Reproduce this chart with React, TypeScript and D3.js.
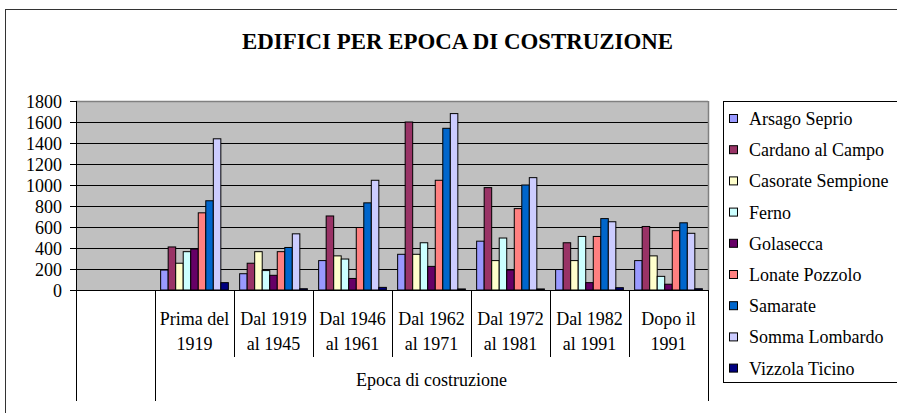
import * as d3 from 'd3';

const categories = ['', 'Prima del|1919', 'Dal 1919|al 1945', 'Dal 1946|al 1961', 'Dal 1962|al 1971', 'Dal 1972|al 1981', 'Dal 1982|al 1991', 'Dopo il|1991'];
const seriesNames = ['Arsago Seprio', 'Cardano al Campo', 'Casorate Sempione', 'Ferno', 'Golasecca', 'Lonate Pozzolo', 'Samarate', 'Somma Lombardo', 'Vizzola Ticino'];
const seriesColors = ['#9999FF', '#993366', '#FFFFCC', '#CCFFFF', '#660066', '#FF8080', '#0066CC', '#CCCCFF', '#000080'];

// values per series, one per real category (first category is empty)
const arsago = [190, 155, 280, 340, 465, 195, 280];
const cardano = [410, 255, 705, 1600, 975, 450, 605];
const casorate = [255, 365, 325, 340, 280, 280, 325];
const ferno = [365, 185, 295, 450, 495, 510, 130];
const golasecca = [390, 140, 110, 225, 190, 70, 55];
const lonate = [735, 365, 595, 1045, 775, 510, 565];
const samarate = [850, 405, 830, 1540, 1000, 680, 640];
const somma = [1440, 535, 1045, 1680, 1070, 650, 540];
const vizzola = [70, 12, 25, 10, 10, 22, 12];
const seriesValues = [arsago, cardano, casorate, ferno, golasecca, lonate, samarate, somma, vizzola];

const yTicks = [0, 200, 400, 600, 800, 1000, 1200, 1400, 1600, 1800];

const W = 897;
const H = 413;
const plot = { left: 76, right: 708, top: 101, bottom: 290 };
const serif = { fontFamily: "'Liberation Serif', 'Times New Roman', Times, serif" };

export default function App() {
  const x0 = d3.scaleBand<string>().domain(categories).range([plot.left, plot.right]).padding(0);
  const x1 = d3
    .scaleBand<string>()
    .domain(seriesNames)
    .range([0, x0.bandwidth()])
    .paddingInner(0)
    .paddingOuter(0.75);
  const y = d3.scaleLinear().domain([0, 1800]).range([plot.bottom, plot.top]);

  const boundaries = categories.map(c => x0(c)!).concat([plot.right]);

  return (
    <svg width={W} height={H} style={{ position: 'absolute', left: 0, top: 0, background: '#fff' }}>
      {/* outer chart border */}
      <rect x={5.5} y={9.5} width={W + 10} height={H + 10} fill="none" stroke="#333" strokeWidth={1} />
      <text
        x={457.5}
        y={48.5}
        textAnchor="middle"
        fontSize={23}
        fontWeight="bold"
        fill="#000"
        textLength={431}
        lengthAdjust="spacingAndGlyphs"
        style={serif}
      >
        EDIFICI PER EPOCA DI COSTRUZIONE
      </text>

      {/* plot area */}
      <rect x={plot.left} y={plot.top} width={plot.right - plot.left} height={plot.bottom - plot.top} fill="#C0C0C0" />
      {yTicks.slice(1).map(t => (
        <line key={t} x1={plot.left} x2={plot.right} y1={Math.round(y(t)) + 0.5} y2={Math.round(y(t)) + 0.5} stroke="#000" strokeWidth={1} />
      ))}
      <line x1={plot.left} x2={plot.right} y1={plot.top + 0.5} y2={plot.top + 0.5} stroke="#808080" strokeWidth={1.5} />
      <line x1={plot.right + 0.5} x2={plot.right + 0.5} y1={plot.top} y2={plot.bottom} stroke="#808080" strokeWidth={1.5} />

      {/* bars */}
      {seriesValues.map((vals, si) =>
        vals.map((v, ci) => {
          const cat = categories[ci + 1];
          const bx = x0(cat)! + x1(seriesNames[si])!;
          return (
            <rect
              key={`${si}-${ci}`}
              x={bx}
              y={y(v)}
              width={x1.bandwidth()}
              height={plot.bottom - y(v)}
              fill={seriesColors[si]}
              stroke="#000"
              strokeWidth={1}
            />
          );
        })
      )}

      {/* axes */}
      <line x1={plot.left + 0.5} x2={plot.left + 0.5} y1={plot.top} y2={plot.bottom} stroke="#000" />
      <line x1={plot.left} x2={plot.right} y1={plot.bottom + 0.5} y2={plot.bottom + 0.5} stroke="#000" />
      {yTicks.map(t => (
        <g key={t}>
          <line x1={plot.left - 6} x2={plot.left} y1={Math.round(y(t)) + 0.5} y2={Math.round(y(t)) + 0.5} stroke="#000" />
          <text x={62} y={y(t) + 7} textAnchor="end" fontSize={18} fill="#000" style={serif}>
            {t}
          </text>
        </g>
      ))}

      {/* multi-level category axis */}
      {boundaries.map((bx, i) => {
        const full = i <= 1 || i === boundaries.length - 1;
        return (
          <line
            key={i}
            x1={Math.round(bx) + 0.5}
            x2={Math.round(bx) + 0.5}
            y1={plot.bottom}
            y2={full ? 401 : 357}
            stroke="#000"
            strokeWidth={1}
          />
        );
      })}
      {categories.map(c => {
        const [l1, l2] = c.split('|');
        const cx = x0(c)! + x0.bandwidth() / 2;
        return c ? (
          <text key={c} x={cx} textAnchor="middle" fontSize={18} fill="#000" style={serif}>
            <tspan x={cx} y={325}>{l1}</tspan>
            <tspan x={cx} y={350}>{l2}</tspan>
          </text>
        ) : null;
      })}
      <text x={(x0(categories[1])! + plot.right) / 2} y={386} textAnchor="middle" fontSize={18} fill="#000" style={serif}>
        Epoca di costruzione
      </text>

      {/* legend */}
      <rect x={723.5} y={101.5} width={200} height={281} fill="#fff" stroke="#000" strokeWidth={1} />
      {seriesNames.map((s, i) => {
        const base = 125 + i * 31.2;
        return (
          <g key={s}>
            <rect x={729.5} y={base - 10.5} width={8} height={8} fill={seriesColors[i]} stroke="#000" strokeWidth={1} />
            <text x={749} y={base} fontSize={18} fill="#000" style={serif}>
              {s}
            </text>
          </g>
        );
      })}
    </svg>
  );
}
